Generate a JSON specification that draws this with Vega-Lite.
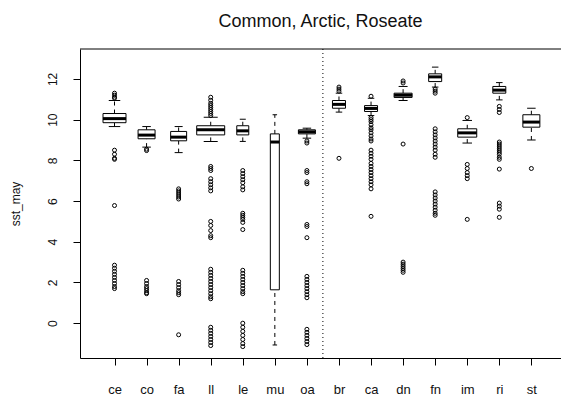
{
  "$schema": "https://vega.github.io/schema/vega-lite/v6.json",
  "autosize": "none",
  "width": 481,
  "height": 309,
  "padding": {"left": 80, "top": 49, "right": 0, "bottom": 45},
  "background": "white",
  "title": {"text": "Common, Arctic, Roseate", "fontSize": 18, "fontWeight": "normal", "font": "Liberation Sans", "color": "#111", "offset": 18, "anchor": "middle", "frame": "group"},
  "datasets": {
    "stats": [
      {"cat": "ce", "n": 588, "lo": 9.66, "q1": 9.85, "med": 10.05, "q3": 10.3, "hi": 10.94},
      {"cat": "co", "n": 321, "lo": 8.65, "q1": 9.06, "med": 9.24, "q3": 9.5, "hi": 9.66},
      {"cat": "fa", "n": 284, "lo": 8.38, "q1": 8.96, "med": 9.14, "q3": 9.42, "hi": 9.66},
      {"cat": "ll", "n": 871, "lo": 8.93, "q1": 9.25, "med": 9.5, "q3": 9.7, "hi": 10.12},
      {"cat": "le", "n": 160, "lo": 8.93, "q1": 9.25, "med": 9.45, "q3": 9.7, "hi": 10.02},
      {"cat": "mu", "n": 90, "lo": -1.07, "q1": 1.64, "med": 8.9, "q3": 9.3, "hi": 10.24},
      {"cat": "oa", "n": 321, "lo": 9.09, "q1": 9.3, "med": 9.4, "q3": 9.5, "hi": 9.58},
      {"cat": "br", "n": 188, "lo": 10.37, "q1": 10.56, "med": 10.75, "q3": 10.94, "hi": 11.3},
      {"cat": "ca", "n": 188, "lo": 10.2, "q1": 10.4, "med": 10.55, "q3": 10.69, "hi": 11.05},
      {"cat": "dn", "n": 360, "lo": 10.94, "q1": 11.09, "med": 11.2, "q3": 11.3, "hi": 11.63},
      {"cat": "fn", "n": 188, "lo": 11.6, "q1": 11.87, "med": 12.1, "q3": 12.25, "hi": 12.58},
      {"cat": "im", "n": 401, "lo": 8.85, "q1": 9.14, "med": 9.35, "q3": 9.55, "hi": 9.96},
      {"cat": "ri", "n": 188, "lo": 10.97, "q1": 11.3, "med": 11.45, "q3": 11.63, "hi": 11.82},
      {"cat": "st", "n": 321, "lo": 9.0, "q1": 9.63, "med": 9.88, "q3": 10.24, "hi": 10.56}
    ],
    "outliers": [
      {"cat": "ce", "v": 11.3}, {"cat": "ce", "v": 11.2}, {"cat": "ce", "v": 11.1}, {"cat": "ce", "v": 11.05},
      {"cat": "ce", "v": 8.5}, {"cat": "ce", "v": 8.3}, {"cat": "ce", "v": 8.1}, {"cat": "ce", "v": 8.05},
      {"cat": "ce", "v": 5.78},
      {"cat": "ce", "v": 2.85}, {"cat": "ce", "v": 2.7}, {"cat": "ce", "v": 2.55}, {"cat": "ce", "v": 2.4}, {"cat": "ce", "v": 2.25}, {"cat": "ce", "v": 2.1}, {"cat": "ce", "v": 1.95}, {"cat": "ce", "v": 1.8}, {"cat": "ce", "v": 1.7},
      {"cat": "co", "v": 8.55}, {"cat": "co", "v": 8.48},
      {"cat": "co", "v": 2.1}, {"cat": "co", "v": 1.95}, {"cat": "co", "v": 1.8}, {"cat": "co", "v": 1.7}, {"cat": "co", "v": 1.6}, {"cat": "co", "v": 1.5}, {"cat": "co", "v": 1.45},
      {"cat": "fa", "v": 6.6}, {"cat": "fa", "v": 6.5}, {"cat": "fa", "v": 6.4}, {"cat": "fa", "v": 6.3}, {"cat": "fa", "v": 6.2}, {"cat": "fa", "v": 6.1},
      {"cat": "fa", "v": 2.05}, {"cat": "fa", "v": 1.9}, {"cat": "fa", "v": 1.75}, {"cat": "fa", "v": 1.6}, {"cat": "fa", "v": 1.5}, {"cat": "fa", "v": 1.4}, {"cat": "fa", "v": -0.57},
      {"cat": "ll", "v": 11.1}, {"cat": "ll", "v": 10.95}, {"cat": "ll", "v": 10.8}, {"cat": "ll", "v": 10.7}, {"cat": "ll", "v": 10.6}, {"cat": "ll", "v": 10.5}, {"cat": "ll", "v": 10.4}, {"cat": "ll", "v": 10.3}, {"cat": "ll", "v": 10.2},
      {"cat": "ll", "v": 7.7}, {"cat": "ll", "v": 7.6}, {"cat": "ll", "v": 7.5}, {"cat": "ll", "v": 7.1}, {"cat": "ll", "v": 6.95}, {"cat": "ll", "v": 6.8}, {"cat": "ll", "v": 6.65}, {"cat": "ll", "v": 6.5},
      {"cat": "ll", "v": 5.0}, {"cat": "ll", "v": 4.8}, {"cat": "ll", "v": 4.55}, {"cat": "ll", "v": 4.3}, {"cat": "ll", "v": 4.2},
      {"cat": "ll", "v": 2.65}, {"cat": "ll", "v": 2.5}, {"cat": "ll", "v": 2.35}, {"cat": "ll", "v": 2.2}, {"cat": "ll", "v": 2.05}, {"cat": "ll", "v": 1.9}, {"cat": "ll", "v": 1.75}, {"cat": "ll", "v": 1.6}, {"cat": "ll", "v": 1.45}, {"cat": "ll", "v": 1.3}, {"cat": "ll", "v": 1.2},
      {"cat": "ll", "v": -0.2}, {"cat": "ll", "v": -0.35}, {"cat": "ll", "v": -0.5}, {"cat": "ll", "v": -0.65}, {"cat": "ll", "v": -0.8}, {"cat": "ll", "v": -0.95}, {"cat": "ll", "v": -1.1},
      {"cat": "le", "v": 7.5}, {"cat": "le", "v": 7.35}, {"cat": "le", "v": 7.2}, {"cat": "le", "v": 7.05}, {"cat": "le", "v": 6.9}, {"cat": "le", "v": 6.7}, {"cat": "le", "v": 6.55},
      {"cat": "le", "v": 5.4}, {"cat": "le", "v": 5.3}, {"cat": "le", "v": 5.2}, {"cat": "le", "v": 5.1}, {"cat": "le", "v": 4.95}, {"cat": "le", "v": 4.6},
      {"cat": "le", "v": 2.6}, {"cat": "le", "v": 2.45}, {"cat": "le", "v": 2.3}, {"cat": "le", "v": 2.15}, {"cat": "le", "v": 2.0}, {"cat": "le", "v": 1.85}, {"cat": "le", "v": 1.7}, {"cat": "le", "v": 1.55}, {"cat": "le", "v": 1.45},
      {"cat": "le", "v": 0.0}, {"cat": "le", "v": -0.2}, {"cat": "le", "v": -0.4}, {"cat": "le", "v": -0.6}, {"cat": "le", "v": -0.8}, {"cat": "le", "v": -1.0}, {"cat": "le", "v": -1.15},
      {"cat": "oa", "v": 8.95}, {"cat": "oa", "v": 8.85}, {"cat": "oa", "v": 7.5}, {"cat": "oa", "v": 7.4}, {"cat": "oa", "v": 6.95}, {"cat": "oa", "v": 6.85}, {"cat": "oa", "v": 4.85}, {"cat": "oa", "v": 4.75}, {"cat": "oa", "v": 4.2},
      {"cat": "oa", "v": 2.3}, {"cat": "oa", "v": 2.15}, {"cat": "oa", "v": 2.0}, {"cat": "oa", "v": 1.85}, {"cat": "oa", "v": 1.7}, {"cat": "oa", "v": 1.55}, {"cat": "oa", "v": 1.4}, {"cat": "oa", "v": 1.25},
      {"cat": "oa", "v": -0.3}, {"cat": "oa", "v": -0.45}, {"cat": "oa", "v": -0.6}, {"cat": "oa", "v": -0.75}, {"cat": "oa", "v": -0.9}, {"cat": "oa", "v": -1.05},
      {"cat": "br", "v": 11.6}, {"cat": "br", "v": 11.5}, {"cat": "br", "v": 11.4}, {"cat": "br", "v": 8.1},
      {"cat": "ca", "v": 11.15}, {"cat": "ca", "v": 10.1}, {"cat": "ca", "v": 10.0}, {"cat": "ca", "v": 9.9}, {"cat": "ca", "v": 9.75}, {"cat": "ca", "v": 9.6}, {"cat": "ca", "v": 9.5}, {"cat": "ca", "v": 9.35}, {"cat": "ca", "v": 9.2}, {"cat": "ca", "v": 9.05}, {"cat": "ca", "v": 8.95},
      {"cat": "ca", "v": 8.5}, {"cat": "ca", "v": 8.35}, {"cat": "ca", "v": 8.2}, {"cat": "ca", "v": 8.05}, {"cat": "ca", "v": 7.85}, {"cat": "ca", "v": 7.7}, {"cat": "ca", "v": 7.55}, {"cat": "ca", "v": 7.4}, {"cat": "ca", "v": 7.25}, {"cat": "ca", "v": 7.1}, {"cat": "ca", "v": 6.95}, {"cat": "ca", "v": 6.8}, {"cat": "ca", "v": 6.6}, {"cat": "ca", "v": 5.25},
      {"cat": "dn", "v": 11.9}, {"cat": "dn", "v": 11.8}, {"cat": "dn", "v": 8.8},
      {"cat": "dn", "v": 3.0}, {"cat": "dn", "v": 2.9}, {"cat": "dn", "v": 2.8}, {"cat": "dn", "v": 2.7}, {"cat": "dn", "v": 2.6}, {"cat": "dn", "v": 2.5},
      {"cat": "fn", "v": 11.5}, {"cat": "fn", "v": 11.4}, {"cat": "fn", "v": 11.3},
      {"cat": "fn", "v": 9.55}, {"cat": "fn", "v": 9.4}, {"cat": "fn", "v": 9.25}, {"cat": "fn", "v": 9.1}, {"cat": "fn", "v": 8.95}, {"cat": "fn", "v": 8.8}, {"cat": "fn", "v": 8.65}, {"cat": "fn", "v": 8.5}, {"cat": "fn", "v": 8.3}, {"cat": "fn", "v": 8.15},
      {"cat": "fn", "v": 6.45}, {"cat": "fn", "v": 6.3}, {"cat": "fn", "v": 6.15}, {"cat": "fn", "v": 6.0}, {"cat": "fn", "v": 5.85}, {"cat": "fn", "v": 5.7}, {"cat": "fn", "v": 5.55}, {"cat": "fn", "v": 5.4}, {"cat": "fn", "v": 5.3},
      {"cat": "im", "v": 10.1}, {"cat": "im", "v": 7.8}, {"cat": "im", "v": 7.6}, {"cat": "im", "v": 7.4}, {"cat": "im", "v": 7.25}, {"cat": "im", "v": 7.1}, {"cat": "im", "v": 5.1},
      {"cat": "ri", "v": 10.65}, {"cat": "ri", "v": 10.5}, {"cat": "ri", "v": 10.35},
      {"cat": "ri", "v": 8.9}, {"cat": "ri", "v": 8.8}, {"cat": "ri", "v": 8.7}, {"cat": "ri", "v": 8.6}, {"cat": "ri", "v": 8.5}, {"cat": "ri", "v": 8.4}, {"cat": "ri", "v": 8.3}, {"cat": "ri", "v": 8.15}, {"cat": "ri", "v": 8.05}, {"cat": "ri", "v": 7.57},
      {"cat": "ri", "v": 5.9}, {"cat": "ri", "v": 5.75}, {"cat": "ri", "v": 5.6}, {"cat": "ri", "v": 5.2},
      {"cat": "st", "v": 7.6}
    ]
  },
  "resolve": {"scale": {"size": "independent"}},
  "layer": [
    {
      "data": {"name": "stats"},
      "mark": {"type": "rule", "color": "#000", "strokeWidth": 1, "strokeDash": [4, 4]},
      "encoding": {
        "x": {"field": "cat", "type": "nominal", "sort": null,
              "scale": {"type": "point", "padding": 1.0156, "align": 0.538},
              "axis": {"title": null, "labelAngle": 0, "tickSize": 7, "labelPadding": 18, "labelFontSize": 13, "domain": true}},
        "y": {"field": "q3", "type": "quantitative",
              "scale": {"domain": [-1.71, 13.47], "nice": false, "zero": false},
              "axis": {"title": "sst_may", "values": [0, 2, 4, 6, 8, 10, 12], "labelAngle": -90, "labelAlign": "center", "labelBaseline": "middle", "tickSize": 7, "labelPadding": 21, "labelFontSize": 12, "titleX": -65, "titleY": 154.5, "titleAngle": -90, "titleAlign": "center", "titleBaseline": "middle", "titleFontSize": 12, "titleFontWeight": "normal", "grid": false, "domain": true}},
        "y2": {"field": "hi"}
      }
    },
    {
      "data": {"name": "stats"},
      "mark": {"type": "rule", "color": "#000", "strokeWidth": 1, "strokeDash": [4, 4]},
      "encoding": {
        "x": {"field": "cat", "type": "nominal", "sort": null},
        "y": {"field": "lo", "type": "quantitative"},
        "y2": {"field": "q1"}
      }
    },
    {
      "data": {"name": "stats"},
      "mark": {"type": "tick", "color": "#000", "thickness": 1, "opacity": 1},
      "encoding": {
        "x": {"field": "cat", "type": "nominal", "sort": null},
        "y": {"field": "hi", "type": "quantitative"},
        "size": {"field": "n", "type": "quantitative", "scale": {"type": "sqrt", "domain": [0, 1000], "range": [0, 15]}, "legend": null}
      }
    },
    {
      "data": {"name": "stats"},
      "mark": {"type": "tick", "color": "#000", "thickness": 1, "opacity": 1},
      "encoding": {
        "x": {"field": "cat", "type": "nominal", "sort": null},
        "y": {"field": "lo", "type": "quantitative"},
        "size": {"field": "n", "type": "quantitative", "scale": {"type": "sqrt", "domain": [0, 1000], "range": [0, 15]}, "legend": null}
      }
    },
    {
      "data": {"name": "stats"},
      "mark": {"type": "bar", "fill": "white", "stroke": "#000", "strokeWidth": 1},
      "encoding": {
        "x": {"field": "cat", "type": "nominal", "sort": null},
        "y": {"field": "q1", "type": "quantitative"},
        "y2": {"field": "q3"},
        "size": {"field": "n", "type": "quantitative", "scale": {"type": "sqrt", "domain": [0, 1000], "range": [0, 30]}, "legend": null}
      }
    },
    {
      "data": {"name": "stats"},
      "mark": {"type": "tick", "color": "#000", "thickness": 3, "opacity": 1},
      "encoding": {
        "x": {"field": "cat", "type": "nominal", "sort": null},
        "y": {"field": "med", "type": "quantitative"},
        "size": {"field": "n", "type": "quantitative", "scale": {"type": "sqrt", "domain": [0, 1000], "range": [0, 30]}, "legend": null}
      }
    },
    {
      "data": {"name": "outliers"},
      "mark": {"type": "point", "shape": "circle", "filled": false, "color": "#000", "strokeWidth": 1, "size": 16, "opacity": 1},
      "encoding": {
        "x": {"field": "cat", "type": "nominal", "sort": null},
        "y": {"field": "v", "type": "quantitative"}
      }
    },
    {
      "data": {"values": [{}]},
      "mark": {"type": "rule", "color": "#000", "strokeWidth": 1, "strokeDash": [1, 3], "xOffset": 16},
      "encoding": {
        "x": {"datum": "oa", "type": "nominal"}
      }
    },
    {
      "data": {"values": [{}]},
      "mark": {"type": "rule", "color": "#000", "strokeWidth": 1},
      "encoding": {
        "y": {"datum": 13.47, "type": "quantitative"}
      }
    }
  ],
  "config": {
    "view": {"stroke": null},
    "font": "Liberation Sans",
    "axis": {"domainColor": "#000", "tickColor": "#000", "labelColor": "#111", "titleColor": "#111", "labelFont": "Liberation Sans", "titleFont": "Liberation Sans", "domainWidth": 1, "tickWidth": 1}
  }
}
